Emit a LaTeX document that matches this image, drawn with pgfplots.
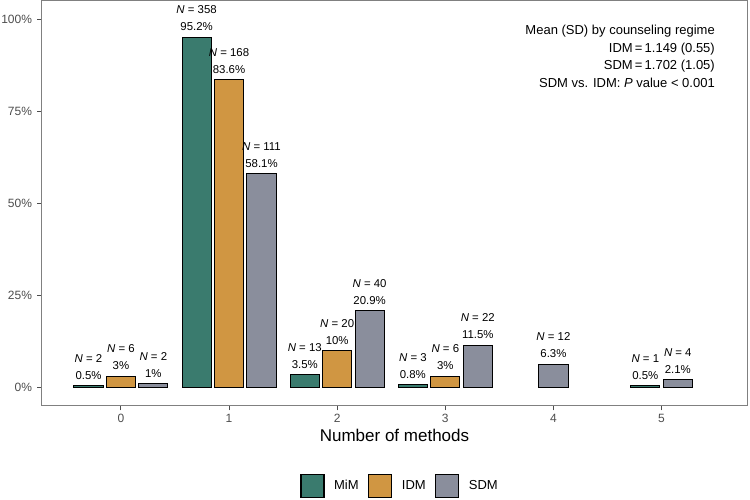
\documentclass[border=0pt]{standalone}
\usepackage{fontspec}
\setmainfont{Liberation Sans}
\usepackage{pgfplots}
\usepackage{pgfplotstable}
\pgfplotsset{compat=1.18}
\definecolor{cmim}{RGB}{58,123,110}
\definecolor{cidm}{RGB}{208,150,66}
\definecolor{csdm}{RGB}{138,142,156}
\definecolor{tickgray}{RGB}{77,77,77}
\definecolor{framegray}{RGB}{128,128,128}

\pgfplotstableread{
x y N
-0.3 0.5 2
0.7 95.2 358
1.7 3.5 13
2.7 0.8 3
4.85 0.5 1
}\mimdata
\pgfplotstableread{
x y N
0 3 6
1 83.6 168
2 10 20
3 3 6
}\idmdata
\pgfplotstableread{
x y N
0.3 1 2
1.3 58.1 111
2.3 20.9 40
3.3 11.5 22
4 6.3 12
5.15 2.1 4
}\sdmdata

\begin{document}
\begin{tikzpicture}
\useasboundingbox (-42pt,-94pt) rectangle (708pt,406pt);
\begin{axis}[
  scale only axis,
  width=705pt, height=405pt,
  xmin=-0.73, xmax=5.79,
  ymin=-5, ymax=105,
  ybar,
  bar width=0.27,
  /pgf/number format/assume math mode=true,
  axis line style={draw=framegray, line width=1pt},
  xtick={0,1,2,3,4,5},
  xticklabels={0,1,2,3,4,5},
  ytick={0,25,50,75,100},
  yticklabels={0\%,25\%,50\%,75\%,100\%},
  xtick pos=bottom, ytick pos=left,
  tick align=outside,
  major tick length=4.5pt,
  tick style={draw=tickgray, line width=1pt},
  ticklabel style={font=\fontsize{12}{14}\selectfont, text=tickgray},
  yticklabel style={xshift=-2pt},
  xlabel={Number of methods},
  xlabel style={font=\fontsize{17}{20}\selectfont},
  clip=false,
  legend columns=3,
  legend style={at={(0.508,-0.197)}, anchor=center, draw=none,
    font=\fontsize{13}{15}\selectfont,
    /tikz/every odd column/.append style={column sep=7.5pt},
    /tikz/every even column/.append style={column sep=7.5pt}},
  nodes near coords={\textit{N} = \pgfmathprintnumber{\nval}\\\pgfmathprintnumber{\pgfplotspointmeta}\%},
  every node near coord/.append style={anchor=south, inner sep=0pt, yshift=6pt, align=center,
    font=\fontsize{11.4}{17}\selectfont, text=black},
  point meta=y,
]
\addplot[fill=cmim, draw=black, line width=1pt, bar shift=0pt,
  visualization depends on={\thisrow{N}\as\nval},
  legend image code/.code={\draw[fill=cmim, draw=black, line width=1.2pt] (0pt,-11.5pt) rectangle (23pt,11.5pt);}]
  table[x=x,y=y] {\mimdata};
\addlegendentry{MiM}
\addplot[fill=cidm, draw=black, line width=1pt, bar shift=0pt,
  visualization depends on={\thisrow{N}\as\nval},
  legend image code/.code={\draw[fill=cidm, draw=black, line width=1.2pt] (0pt,-11.5pt) rectangle (23pt,11.5pt);}]
  table[x=x,y=y] {\idmdata};
\addlegendentry{IDM}
\addplot[fill=csdm, draw=black, line width=1pt, bar shift=0pt,
  visualization depends on={\thisrow{N}\as\nval},
  legend image code/.code={\draw[fill=csdm, draw=black, line width=1.2pt] (0pt,-11.5pt) rectangle (23pt,11.5pt);}]
  table[x=x,y=y] {\sdmdata};
\addlegendentry{SDM}
\node[anchor=base east, inner sep=0pt, font=\fontsize{13}{15}\selectfont] at (rel axis cs:0.9546,0.917) {Mean (SD) by counseling regime};
\node[anchor=base east, inner sep=0pt, font=\fontsize{13}{15}\selectfont] at (rel axis cs:0.9546,0.8733) {IDM\,=\,1.149 (0.55)};
\node[anchor=base east, inner sep=0pt, font=\fontsize{13}{15}\selectfont] at (rel axis cs:0.9546,0.8304) {SDM\,=\,1.702 (1.05)};
\node[anchor=base east, inner sep=0pt, font=\fontsize{13}{15}\selectfont] at (rel axis cs:0.9546,0.787) {SDM vs. IDM: \textit{P} value < 0.001};
\end{axis}
\end{tikzpicture}
\end{document}
